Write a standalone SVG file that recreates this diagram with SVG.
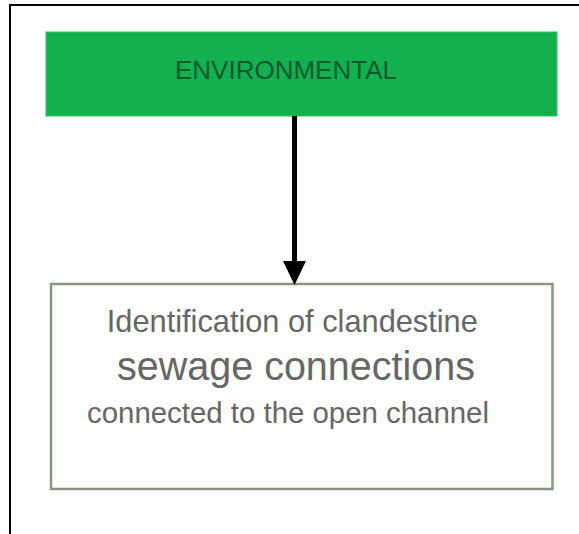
<svg xmlns="http://www.w3.org/2000/svg" width="579" height="534" viewBox="0 0 579 534">
<style>
.frame{stroke:#000;stroke-width:2;fill:none}
.green{fill:#13b04f;stroke:#2ec466;stroke-width:1}
.gtext{font-family:"Liberation Sans",Arial,sans-serif;font-size:26px;fill:#0d5a2b;text-anchor:middle}
.box{fill:#fdfdfb;stroke:#8a967e;stroke-width:2.5}
.btext{font-family:"Liberation Sans",Arial,sans-serif;fill:#666;text-anchor:middle}
.conn{stroke:#000;stroke-width:5;fill:none}
</style>
<defs>
<marker id="ah" markerUnits="userSpaceOnUse" markerWidth="24" markerHeight="24" viewBox="0 0 24 24" refX="12" refY="23" orient="auto-start-reverse">
<polygon points="0,0 24,0 12,23" fill="#000"/>
</marker>
</defs>
<rect width="579" height="534" fill="#fff"/>
<path class="frame" d="M10,534 V5 H579"/>
<g id="node-environmental">
<rect class="green" x="46" y="32" width="511" height="84"/>
<text class="gtext" x="286" y="79">ENVIRONMENTAL</text>
</g>
<g id="node-identification">
<rect class="box" x="51" y="284" width="501.5" height="205"/>
<text class="btext" x="292.3" y="332" font-size="30.5" textLength="371" lengthAdjust="spacingAndGlyphs">Identification of clandestine</text>
<text class="btext" x="296" y="380" font-size="40" textLength="358" lengthAdjust="spacingAndGlyphs">sewage connections</text>
<text class="btext" x="288" y="423" font-size="29.5" textLength="402" lengthAdjust="spacingAndGlyphs">connected to the open channel</text>
</g>
<g id="connectors">
<line class="conn" x1="294.5" y1="116" x2="294.5" y2="263"/>
<polygon points="283,261 306,261 294.5,285" fill="#000"/>
</g>
</svg>
